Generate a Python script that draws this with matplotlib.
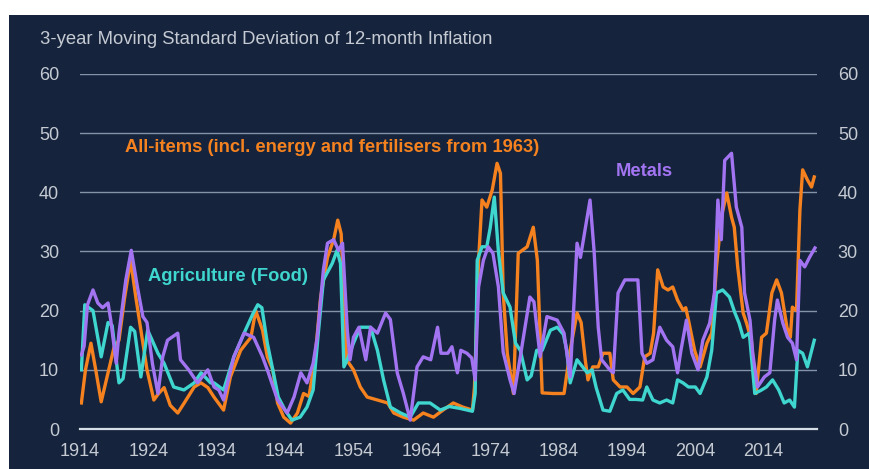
import matplotlib
matplotlib.use("Agg")
import matplotlib.pyplot as plt
from matplotlib.patches import Rectangle

plt.rcParams['font.family'] = ['Liberation Sans', 'DejaVu Sans']

title = "3-year Moving Standard Deviation of 12-month Inflation"
label_all = "All-items (incl. energy and fertilisers from 1963)"
label_agri = "Agriculture (Food)"
label_metals = "Metals"
xtick_years = [1914, 1924, 1934, 1944, 1954, 1964, 1974, 1984, 1994, 2004, 2014]
yticks = [0, 10, 20, 30, 40, 50, 60]

all_years = [1914.2, 1914.8, 1915.6, 1916.3, 1917.1, 1918.0, 1919.0, 1919.7, 1920.5, 1921.4,
             1922.2, 1922.9, 1923.8, 1924.8, 1925.5, 1926.3, 1927.2, 1928.3, 1929.3, 1930.7,
             1931.7, 1932.7, 1933.6, 1935.0, 1936.0, 1937.5, 1939.0, 1939.7, 1940.7, 1941.4,
             1942.2, 1942.9, 1943.8, 1944.8, 1945.8, 1946.7, 1947.5, 1948.4, 1949.2, 1950.2,
             1951.1, 1951.7, 1952.2, 1953.0, 1954.0, 1955.0, 1956.0, 1957.5, 1959.0, 1959.9,
             1961.3, 1962.8, 1964.2, 1965.7, 1967.1, 1968.6, 1970.0, 1971.4, 1971.7, 1972.3,
             1972.8, 1973.5, 1974.3, 1975.0, 1975.5, 1975.9, 1976.5, 1977.4, 1978.1, 1979.4,
             1980.3, 1980.9, 1981.6, 1983.2, 1984.8, 1985.7, 1986.7, 1987.3, 1987.9, 1988.3,
             1989.0, 1989.8, 1990.5, 1991.5, 1992.0, 1993.0, 1994.0, 1994.9, 1995.9, 1996.6,
             1997.4, 1997.9, 1998.5, 1999.3, 2000.0, 2000.7, 2001.4, 2002.2, 2002.6, 2003.0,
             2003.9, 2004.7, 2005.7, 2006.4, 2007.1, 2007.8, 2008.6, 2009.3, 2009.7, 2010.2,
             2011.0, 2011.5, 2012.2, 2012.9, 2013.7, 2014.4, 2015.2, 2015.9, 2016.6, 2017.4,
             2017.9, 2018.2, 2018.8, 2019.3, 2019.7, 2020.4, 2021.0, 2021.4]
all_vals = [4.4, 10, 14.5, 10, 4.6, 9, 13.9, 15, 22, 28.5,
            22, 16.7, 10, 4.9, 6, 7, 4, 2.7, 4.5, 7.1,
            7.8, 7, 5.4, 3.2, 8.8, 13.3, 15.5, 20, 16.7, 12.2,
            10, 4.4, 2, 1, 2.7, 6, 5.5, 12.2, 22.3, 29,
            32, 35.3, 33, 11.7, 10, 7.1, 5.4, 4.9, 4.4, 2.7,
            2, 1.5, 2.7, 2, 3.2, 4.4, 3.7, 3.2, 7.1, 28.5,
            38.7, 37.5, 40.4, 44.9, 43.2, 23, 12.8, 6, 29.7, 30.8,
            34.1, 28.5, 6.1, 6, 6, 13.3, 19.6, 18, 11.7, 8.3,
            10.5, 10.5, 12.8, 12.8, 8.3, 7.1, 7.1, 6, 7.1, 12.2,
            12.8, 16.2, 26.9, 24, 23.5, 24, 21.8, 20.1, 20.5, 18.4,
            13.3, 10.5, 14.5, 16.2, 27.4, 35.8, 39.9, 35.8, 34.1, 27.4,
            19.6, 17.9, 15, 6, 15.5, 16.2, 23, 25.2, 23, 17.2,
            15.5, 20.6, 20, 37, 43.8, 42.1, 40.9, 42.6]

agri_years = [1914.2, 1914.7, 1915.9, 1917.1, 1918.1, 1918.7, 1919.7, 1920.3, 1921.4, 1922.0,
              1922.9, 1923.9, 1925.4, 1926.3, 1927.7, 1929.2, 1930.7, 1931.7, 1933.1, 1933.6,
              1935.0, 1936.5, 1938.0, 1939.3, 1940.0, 1940.6, 1941.4, 1942.2, 1943.0, 1944.0,
              1945.0, 1946.2, 1947.2, 1948.1, 1948.9, 1949.6, 1950.9, 1951.6, 1952.1, 1952.6,
              1953.1, 1954.0, 1955.0, 1956.5, 1957.5, 1958.4, 1959.4, 1960.9, 1962.3, 1963.5,
              1965.2, 1966.7, 1968.0, 1969.5, 1971.4, 1971.8, 1972.1, 1972.8, 1973.5, 1974.0,
              1974.6, 1975.2, 1975.9, 1976.9, 1977.7, 1978.4, 1979.4, 1980.0, 1980.8, 1981.6,
              1982.8, 1983.8, 1984.7, 1985.2, 1985.7, 1986.7, 1988.2, 1988.9, 1989.5, 1990.5,
              1991.5, 1992.5, 1993.4, 1994.4, 1995.3, 1996.3, 1996.9, 1997.8, 1998.8, 1999.8,
              2000.7, 2001.4, 2002.2, 2003.0, 2004.0, 2004.7, 2005.7, 2006.4, 2007.1, 2008.0,
              2009.0, 2009.8, 2010.4, 2011.0, 2011.9, 2012.7, 2013.7, 2014.4, 2015.3, 2016.2,
              2017.0, 2017.8, 2018.5, 2019.0, 2019.7, 2020.4, 2021.4]
agri_vals = [10, 21, 20, 12.2, 18, 17.5, 7.8, 8.5, 17.2, 16.5,
             8.8, 16.7, 12.8, 11.1, 7.1, 6.6, 7.8, 9.5, 7.8, 7.8,
             6.6, 12.2, 16.2, 19.5, 21, 20.5, 14.5, 10, 5.4, 3.2,
             1.5, 2, 3.7, 6.6, 16.7, 25.2, 28, 30.2, 28, 10.5,
             11.7, 14.5, 17.2, 17.2, 13.3, 8.3, 3.7, 2.7, 2, 4.4,
             4.4, 3.2, 3.8, 3.5, 3.0, 6, 28.5, 30.8, 30.8, 34,
             39.2, 30, 23, 20.6, 14.5, 13.3, 8.3, 9, 13.3, 13.3,
             16.7, 17.2, 16, 13.3, 7.8, 11.7, 9.5, 10, 7, 3.2,
             3, 6, 6.6, 5, 5, 4.9, 7.1, 4.9, 4.4, 4.9,
             4.4, 8.3, 7.8, 7.1, 7.1, 6, 8.8, 13.3, 23, 23.5,
             22.3, 19.6, 17.9, 15.5, 16.2, 6, 6.6, 7.1, 8.3, 6.6,
             4.4, 4.9, 3.7, 13.3, 12.8, 10.5, 15]

metal_years = [1914.2, 1914.6, 1915.1, 1915.9, 1916.6, 1917.3, 1918.1, 1918.5, 1919.3, 1919.7,
               1920.7, 1921.5, 1922.4, 1923.2, 1923.8, 1924.6, 1925.4, 1926.1, 1926.8, 1928.3,
               1928.7, 1929.9, 1931.2, 1932.7, 1933.6, 1934.3, 1935.0, 1936.5, 1938.0, 1939.4,
               1940.7, 1941.4, 1942.9, 1944.3, 1945.3, 1946.3, 1947.2, 1948.1, 1948.7, 1949.6,
               1950.2, 1951.1, 1951.8, 1952.4, 1953.1, 1953.5, 1954.0, 1954.8, 1955.8, 1956.5,
               1957.5, 1958.7, 1959.4, 1960.4, 1961.3, 1962.3, 1963.3, 1964.2, 1965.3, 1966.3,
               1966.8, 1967.8, 1968.4, 1969.2, 1969.7, 1970.6, 1971.3, 1971.8, 1972.3, 1973.0,
               1973.7, 1974.4, 1975.2, 1975.9, 1976.9, 1977.5, 1978.4, 1979.8, 1980.4, 1981.3,
               1982.3, 1983.8, 1984.8, 1985.7, 1986.7, 1987.2, 1988.6, 1989.2, 1989.8, 1990.3,
               1991.5, 1992.0, 1992.7, 1993.7, 1995.6, 1996.2, 1996.9, 1997.8, 1998.8, 1999.8,
               2000.7, 2001.4, 2001.9, 2002.7, 2003.5, 2004.4, 2005.1, 2006.1, 2006.8, 2007.3,
               2007.8, 2008.3, 2009.3, 2010.0, 2010.8, 2011.2, 2012.0, 2012.4, 2013.1, 2014.1,
               2014.9, 2015.6, 2016.0, 2016.8, 2017.5, 2018.2, 2018.8, 2019.3, 2020.0, 2020.7,
               2021.5]
metal_vals = [12.5, 14, 21, 23.5, 21.3, 20.5, 21.3, 18.4, 11.1, 16.2,
              25.2, 30.2, 24, 19, 18, 11, 6, 12.2, 15, 16.2,
              11.7, 10, 7.8, 10, 7.1, 6.6, 4.9, 12.2, 16.2, 15.5,
              12.2, 10, 4.9, 2.7, 5.4, 9.5, 7.8, 11.1, 15.5, 26.9,
              31.4, 32, 30.2, 31.4, 16.7, 11.7, 15.5, 17.2, 11.7, 17.2,
              16.2, 19.6, 18.5, 9.5, 6, 1.5, 10.5, 12.2, 11.7, 17.2,
              12.8, 12.8, 13.9, 9.5, 13.3, 12.8, 12, 8.3, 24, 28.5,
              30.8, 29.7, 24, 13, 8.3, 6, 12.2, 22.3, 21.5, 12.2,
              19, 18.4, 16.2, 8.8, 31.4, 29, 38.7, 30, 17.2, 11.7,
              10, 9.5, 23, 25.2, 25.2, 12.8, 11.1, 11.7, 17.2, 15,
              13.9, 9.5, 13.3, 18.4, 12.8, 10, 15, 17.9, 23, 38.7,
              32, 45.4, 46.6, 37.5, 34.1, 23, 18.4, 12.8, 7.1, 8.8,
              9.5, 18.4, 21.8, 17.9, 15.5, 14.5, 11.7, 28.5, 27.4, 29,
              30.6]

BG = '#15243c'
ORANGE = '#f5821f'
TEAL = '#3fd6d0'
PURPLE = '#a374f2'
TXT = '#c5cad3'

W, H = 869, 469
fig = plt.figure(figsize=(W / 100, H / 100), dpi=100, facecolor='white')
fig.patches.append(Rectangle((9 / W, 0), 1 - 9 / W, 1 - 15 / H, transform=fig.transFigure,
                             facecolor=BG, edgecolor='none', zorder=-10))

left, right = 80 / W, 817 / W
bottom, top = 1 - 429 / H, 1 - 74 / H
ax = fig.add_axes([left, bottom, right - left, top - bottom])
ax.set_facecolor('none')
ax.set_xlim(1914.1, 2021.8)
ax.set_ylim(0, 60)

for v in yticks:
    if v == 0:
        ax.axhline(v, color='#d7dde6', lw=1.6, zorder=1, clip_on=False)
    else:
        ax.axhline(v, color='#8393a8', lw=1.0, zorder=1)

ax.plot(all_years, all_vals, color=ORANGE, lw=2.4, zorder=3, solid_joinstyle='round')
ax.plot(agri_years, agri_vals, color=TEAL, lw=2.4, zorder=4, solid_joinstyle='round')
ax.plot(metal_years, metal_vals, color=PURPLE, lw=2.4, zorder=5, solid_joinstyle='round')

for s in ax.spines.values():
    s.set_visible(False)

ax.set_xticks(xtick_years)
ax.set_xticklabels([str(y) for y in xtick_years])
ax.set_yticks(yticks)
ax.tick_params(axis='both', length=0, labelsize=13, colors=TXT)
ax.tick_params(axis='x', pad=10)
ax.tick_params(axis='y', pad=15, labelright=True, right=False)

fig.text(40 / W, 1 - 40 / H, title, color=TXT, fontsize=13.3, va='center', ha='left')

ax.text(1920.6, 47.5, label_all, color=ORANGE, fontsize=13.2, fontweight='bold',
        va='center', ha='left')
ax.text(1924.0, 25.8, label_agri, color=TEAL, fontsize=13.2, fontweight='bold',
        va='center', ha='left')
ax.text(1992.3, 43.5, label_metals, color=PURPLE, fontsize=13.2, fontweight='bold',
        va='center', ha='left')

fig.savefig('out.png', dpi=100, facecolor='white')
